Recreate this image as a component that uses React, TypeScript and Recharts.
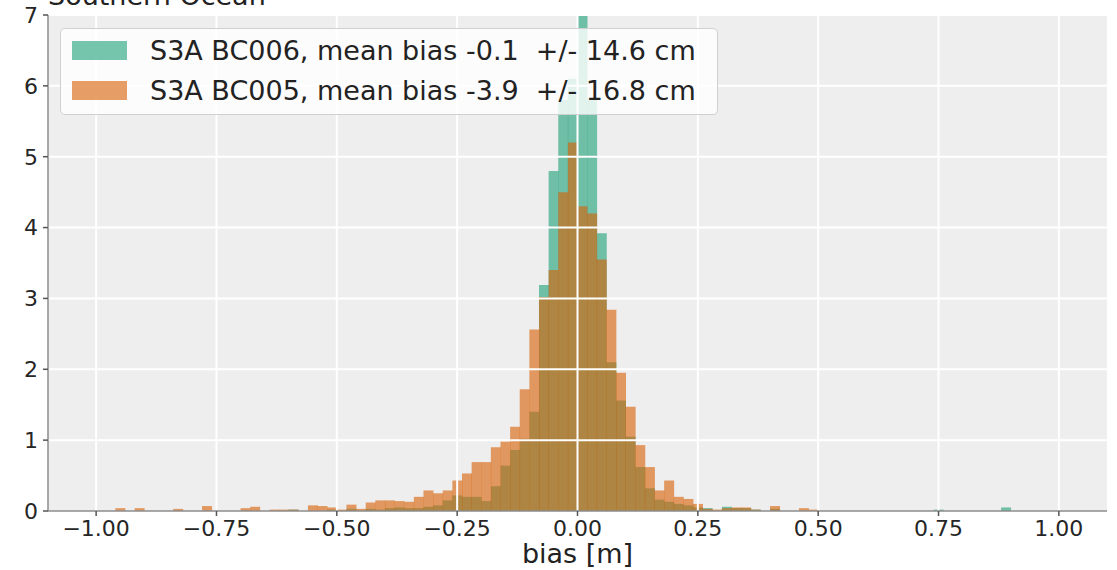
import React from 'react';
import {
  ComposedChart,
  Bar,
  XAxis,
  YAxis,
  CartesianGrid,
  ReferenceLine,
  Legend,
  Customized,
} from 'recharts';

// Histogram bins: left edges, width 0.02 m, spanning the plotted range -1.10 .. 1.10
const BIN_LEFT_EDGES: number[] = Array.from({ length: 110 }, (_, i) => Math.round((-1.1 + i * 0.02) * 100) / 100);

// S3A BC006 (density)
const BC006: number[] = [
  0, 0, 0, 0, 0, 0, 0, 0, 0, 0,
  0, 0, 0, 0, 0, 0, 0, 0, 0, 0,
  0, 0, 0, 0, 0, 0.02, 0, 0, 0, 0.02,
  0, 0.03, 0, 0.03, 0.02, 0.04, 0.05, 0.04, 0.04, 0.06,
  0.08, 0.15, 0.22, 0.2, 0.2, 0.14, 0.35, 0.64, 0.86, 1.02,
  1.4, 3.19, 4.8, 5.8, 6.1, 7.0, 5.8, 3.92, 2.1, 1.56,
  1.05, 0.62, 0.32, 0.16, 0.13, 0.1, 0.08, 0.05, 0.04, 0,
  0.06, 0.04, 0.04, 0.02, 0, 0.03, 0, 0, 0, 0,
  0, 0, 0, 0, 0, 0, 0, 0, 0, 0,
  0, 0, 0.02, 0, 0, 0, 0, 0, 0, 0.05,
  0, 0, 0, 0, 0, 0, 0, 0, 0, 0,
];

// S3A BC005 (density)
const BC005: number[] = [
  0, 0, 0, 0, 0, 0, 0, 0.04, 0, 0.04,
  0, 0, 0, 0.03, 0, 0, 0.07, 0, 0, 0,
  0.04, 0.06, 0, 0.02, 0.02, 0.02, 0, 0.08, 0.07, 0.05,
  0.02, 0.09, 0.03, 0.12, 0.15, 0.15, 0.14, 0.13, 0.2, 0.29,
  0.25, 0.29, 0.43, 0.53, 0.69, 0.69, 0.9, 0.98, 1.19, 1.72,
  2.56, 3.02, 3.4, 4.5, 5.2, 4.3, 4.2, 3.55, 2.84, 1.95,
  1.47, 0.93, 0.62, 0.29, 0.43, 0.2, 0.17, 0.1, 0.03, 0.02,
  0.04, 0.05, 0.05, 0.02, 0, 0.07, 0, 0, 0.04, 0.02,
  0, 0, 0, 0, 0, 0, 0, 0, 0, 0,
  0, 0, 0, 0, 0, 0, 0, 0, 0, 0,
  0, 0, 0, 0, 0, 0, 0, 0, 0, 0,
];

const SERIES_LABELS = [
  'S3A BC006, mean bias -0.1  +/- 14.6 cm',
  'S3A BC005, mean bias -3.9  +/- 16.8 cm',
];
const SERIES_COLORS = ['#1b9e77', '#d95f02'];
const X_TICKS = [-1, -0.75, -0.5, -0.25, 0, 0.25, 0.5, 0.75, 1];
const Y_TICKS = [0, 1, 2, 3, 4, 5, 6, 7];
const TITLE = 'Southern Ocean';
const X_LABEL = 'bias [m]';

const data = BIN_LEFT_EDGES.map((e, i) => ({ bin: e, bc006: BC006[i], bc005: BC005[i] }));

const FONT = '"DejaVu Sans", sans-serif';

const fmtX = (v: number) => (v < 0 ? '\u2212' : '') + Math.abs(v).toFixed(2);

const TitleText = () => (
  <text x={48} y={5} fontSize={27} fill="#222" fontFamily={FONT}>
    {TITLE}
  </text>
);

const LegendBox = () => (
  <div
    style={{
      position: 'relative',
      width: 658,
      height: 87,
      boxSizing: 'border-box',
      background: 'rgba(255,255,255,0.8)',
      border: '1px solid #d0d0d0',
      borderRadius: 5,
      fontFamily: FONT,
    }}
  >
    {SERIES_LABELS.map((label, i) => (
      <div key={label}>
        <div
          style={{
            position: 'absolute',
            left: 11,
            top: 12 + i * 40,
            width: 55,
            height: 19,
            background: SERIES_COLORS[i],
            opacity: 0.6,
          }}
        />
        <div
          style={{
            position: 'absolute',
            left: 89,
            top: 8 + i * 40,
            fontSize: 27,
            lineHeight: '27px',
            color: '#222',
            whiteSpace: 'pre',
          }}
        >
          {label}
        </div>
      </div>
    ))}
  </div>
);

export default function App() {
  return (
    <div style={{ position: 'absolute', left: 0, top: 0, width: 1117, height: 570, background: '#fff' }}>
      <ComposedChart
        width={1117}
        height={570}
        data={data}
        margin={{ top: 15, right: 10, bottom: 0, left: 0 }}
        barCategoryGap={0}
        barGap={0}
        style={{ fontFamily: FONT }}
      >
        <CartesianGrid fill="#eeeeee" stroke="none" horizontal={false} vertical={false} />
        <XAxis xAxisId="g" dataKey="bin" type="category" hide />
        <XAxis xAxisId="o" dataKey="bin" type="category" hide />
        <XAxis
          dataKey="bin"
          type="number"
          domain={[-1.1, 1.1]}
          allowDataOverflow
          ticks={X_TICKS}
          interval={0}
          height={59}
          tickFormatter={fmtX}
          tick={{ fontSize: 22, fill: '#262626', fontFamily: FONT }}
          tickSize={5}
          tickMargin={4}
          axisLine={{ stroke: '#8c8c8c', strokeWidth: 1.5 }}
          tickLine={{ stroke: '#555', strokeWidth: 1.5 }}
          label={{ value: X_LABEL, position: 'insideBottom', offset: 7, fontSize: 27, fill: '#222', fontFamily: FONT }}
        />
        <YAxis
          domain={[0, 7]}
          allowDataOverflow
          ticks={Y_TICKS}
          interval={0}
          width={48}
          tick={{ fontSize: 22, fill: '#262626', fontFamily: FONT }}
          tickSize={5}
          tickMargin={5}
          axisLine={{ stroke: '#8c8c8c', strokeWidth: 1.5 }}
          tickLine={{ stroke: '#555', strokeWidth: 1.5 }}
        />
        <Bar xAxisId="g" dataKey="bc006" fill={SERIES_COLORS[0]} fillOpacity={0.6} isAnimationActive={false} />
        <Bar xAxisId="o" dataKey="bc005" fill={SERIES_COLORS[1]} fillOpacity={0.6} isAnimationActive={false} />
        {Y_TICKS.slice(1).map((v) => (
          <ReferenceLine key={'h' + v} y={v} stroke="#ffffff" strokeWidth={2} />
        ))}
        {X_TICKS.map((v) => (
          <ReferenceLine key={'v' + v} x={v} stroke="#ffffff" strokeWidth={2} />
        ))}
        <Legend
          layout="vertical"
          align="center"
          verticalAlign="middle"
          wrapperStyle={{ left: 60, top: 28, width: 658, height: 87 }}
          content={() => <LegendBox />}
        />
        <Customized component={TitleText} />
      </ComposedChart>
    </div>
  );
}
